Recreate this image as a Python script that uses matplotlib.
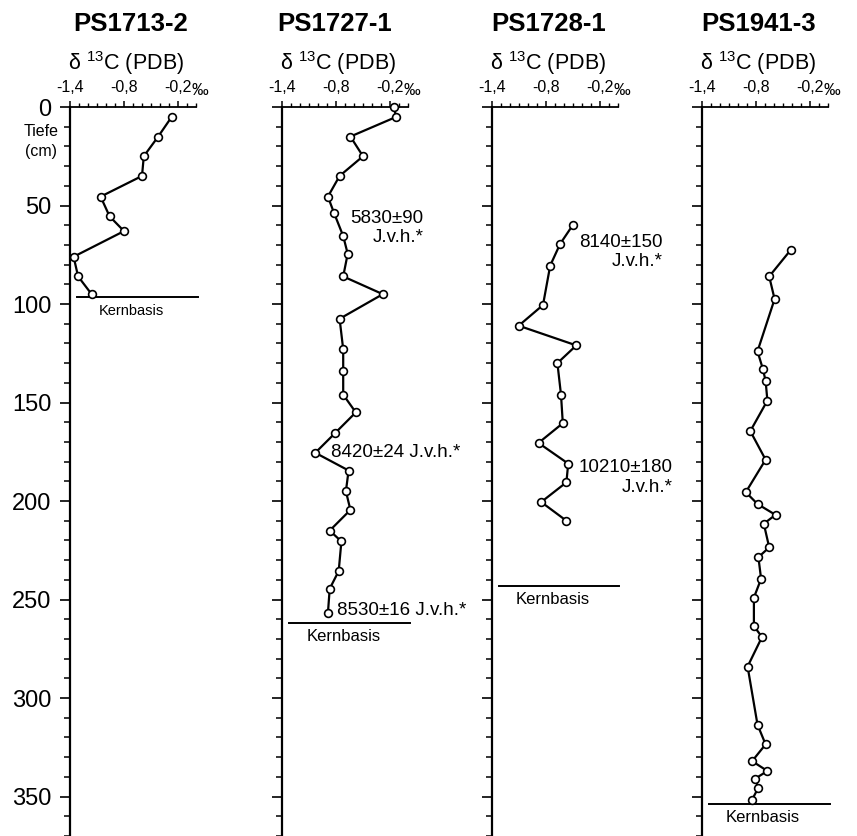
import matplotlib
matplotlib.use("Agg")
import matplotlib.pyplot as plt
from matplotlib.ticker import MultipleLocator, FixedLocator

plt.rcParams['font.family'] = ['Liberation Sans', 'DejaVu Sans']
plt.rcParams['mathtext.fontset'] = 'custom'
plt.rcParams['mathtext.rm'] = 'Liberation Sans'
plt.rcParams['mathtext.it'] = 'Liberation Sans:italic'
plt.rcParams['mathtext.bf'] = 'Liberation Sans:bold'

# ---------------- data ----------------
cores = ["PS1713-2", "PS1727-1", "PS1728-1", "PS1941-3"]

ps1713_depth = [5, 15, 25, 35, 45.5, 55.5, 63, 76, 86, 95]
ps1713_d13c = [-0.27, -0.42, -0.58, -0.60, -1.06, -0.96, -0.80, -1.36, -1.31, -1.16]

ps1727_depth = [0, 5, 15, 25, 35, 45.5, 54, 65.5, 74.5, 86, 95, 107.5, 123, 134,
                146, 155, 165.5, 175.5, 184.5, 195, 204.5, 215, 220.5, 235.5, 244.5, 257]
ps1727_d13c = [-0.16, -0.13, -0.64, -0.50, -0.76, -0.89, -0.82, -0.72, -0.67, -0.72,
               -0.28, -0.76, -0.72, -0.72, -0.72, -0.58, -0.81, -1.03, -0.66, -0.69,
               -0.64, -0.87, -0.74, -0.77, -0.87, -0.89]

ps1728_depth = [60, 69.5, 80.5, 100.5, 111, 121, 130, 146, 160.5, 170.5, 181, 190.5, 200.5, 210]
ps1728_d13c = [-0.50, -0.64, -0.75, -0.83, -1.10, -0.46, -0.67, -0.63, -0.61, -0.88,
               -0.55, -0.57, -0.85, -0.57]

ps1941_depth = [72.5, 86, 97.5, 124, 133, 139, 149, 164.5, 179, 195.5, 201.5, 207, 211.5,
                223.5, 228.5, 239.5, 249, 263.5, 269, 284, 313.5, 323.5, 332, 337, 341,
                345.5, 351.5]
ps1941_d13c = [-0.41, -0.65, -0.59, -0.78, -0.72, -0.69, -0.67, -0.86, -0.69, -0.91, -0.78,
               -0.58, -0.71, -0.65, -0.77, -0.74, -0.82, -0.82, -0.73, -0.89, -0.78, -0.69,
               -0.84, -0.67, -0.81, -0.77, -0.84]

kernbasis_depth = [96.6, 261.7, 243, 353.8]

x_ticks = [-1.4, -0.8, -0.2]
x_ticklabels = ["-1,4", "-0,8", "-0,2"]
y_ticks = [0, 50, 100, 150, 200, 250, 300, 350]

# annotations: (panel, text, x, depth, ha)
annotations = [
    (1, "5830±90\nJ.v.h.*", 0.17, 61.4, "right"),
    (1, "8420±24 J.v.h.*", -0.855, 175.3, "left"),
    (1, "8530±16 J.v.h.*", -0.785, 255.7, "left"),
    (2, "8140±150\nJ.v.h.*", 0.50, 73.5, "right"),
    (2, "10210±180\nJ.v.h.*", 0.61, 188.0, "right"),
]

series = [(ps1713_depth, ps1713_d13c), (ps1727_depth, ps1727_d13c),
          (ps1728_depth, ps1728_d13c), (ps1941_depth, ps1941_d13c)]

# ---------------- layout ----------------
W, H = 857, 836
fig = plt.figure(figsize=(W / 100, H / 100), dpi=100)
lefts_px = [70, 282, 491.7, 701.7]
top_px = 107
ax_w_px = 126
title_x = [0.48, 0.418, 0.455, 0.455]
kb_fs = [10.5, 12, 12, 12]

axes = []
for i, lp in enumerate(lefts_px):
    ax = fig.add_axes([lp / W, 0, ax_w_px / W, (H - top_px) / H])
    axes.append(ax)
    d, v = series[i]
    ax.plot(v, d, color='black', lw=1.6, marker='o', ms=5.6, mfc='white',
            mec='black', mew=1.2, zorder=3, clip_on=False)
    ax.set_xlim(-1.4, 0)
    ax.set_ylim(370, 0)
    for s in ['right', 'bottom']:
        ax.spines[s].set_visible(False)
    ax.spines['left'].set_linewidth(1.6)
    ax.spines['top'].set_linewidth(1.3)
    ax.xaxis.tick_top()
    ax.xaxis.set_major_locator(FixedLocator(x_ticks))
    ax.xaxis.set_minor_locator(MultipleLocator(0.1))
    ax.set_xticklabels(x_ticklabels)
    for lab in ax.get_xticklabels():
        lab.set_x(lab.get_position()[0])
    ax.tick_params(axis='x', which='major', direction='out', length=4.5, width=1.1,
                   labelsize=11.5, pad=4.5)
    ax.tick_params(axis='x', which='minor', direction='out', length=3, width=1.0)
    ax.yaxis.set_major_locator(FixedLocator(y_ticks))
    ax.yaxis.set_minor_locator(MultipleLocator(10))
    ax.tick_params(axis='y', which='major', direction='out', length=7.5, width=1.2,
                   labelsize=17, pad=6)
    ax.tick_params(axis='y', which='minor', direction='out', length=4.5, width=1.1)
    if i > 0:
        ax.set_yticklabels([])
    # per mille sign
    ax.annotate("‰", xy=(-0.2, 1), xycoords=('data', 'axes fraction'),
                xytext=(10.0, 12.0), textcoords='offset points', ha='left',
                va='center', fontsize=12)
    # titles
    ax.text(title_x[i], 1.114, cores[i], transform=ax.transAxes, ha='center',
            va='center', fontsize=18.5, fontweight='bold')
    ax.text(0.445, 1.0597, "δ $^{13}$C (PDB)", transform=ax.transAxes, ha='center',
            va='center', fontsize=15.5)
    # Kernbasis
    kd = kernbasis_depth[i]
    ax.plot([-1.32, 0.02], [kd, kd], color='black', lw=1.4, clip_on=False)
    ax.annotate("Kernbasis", xy=(-0.72, kd), xycoords='data', xytext=(0, -10),
                textcoords='offset points', ha='center', va='center', fontsize=kb_fs[i])

for (p, txt, x, dep, ha) in annotations:
    axes[p].text(x, dep, txt, ha=ha, va='center', multialignment=ha,
                 fontsize=13.5, linespacing=1.17, clip_on=False)

fig.text(41 / W, 1 - 141.5 / H, "Tiefe\n(cm)", ha='center', va='center',
         fontsize=11.5, linespacing=1.44)

fig.savefig("out.png", dpi=100)
